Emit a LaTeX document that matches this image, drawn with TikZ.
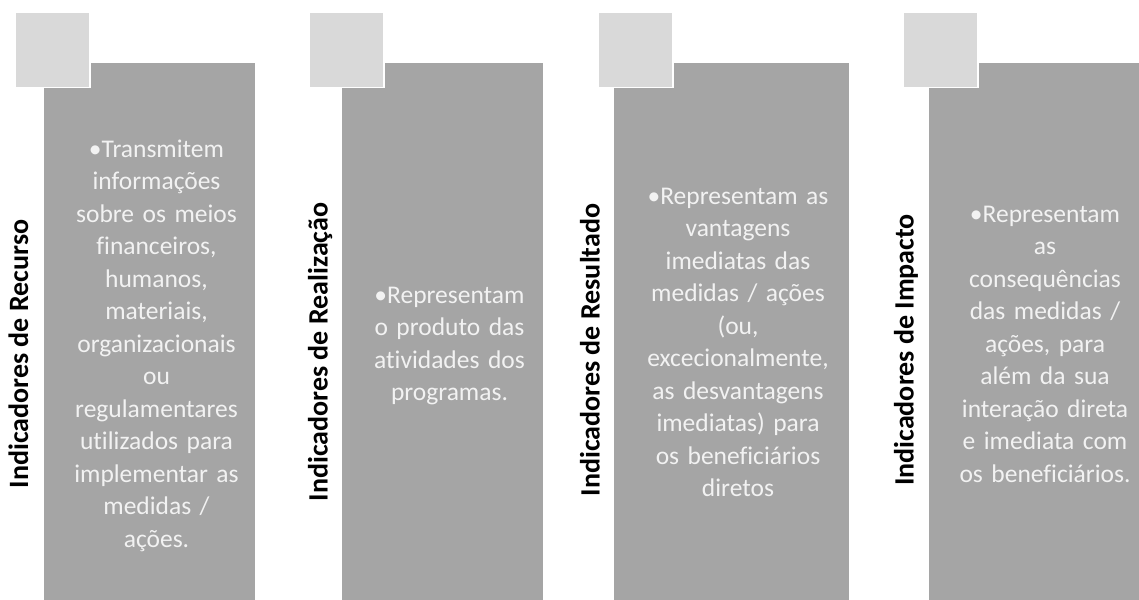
\documentclass[tikz,border=0pt]{standalone}
\usepackage{fontspec}
\setmainfont{Carlito}[Ligatures=NoCommon]
\definecolor{panelgray}{HTML}{A5A5A5}
\definecolor{tabgray}{HTML}{D9D9D9}
\definecolor{txtlight}{HTML}{F2F2F2}

\begin{document}
\begin{tikzpicture}[x=1pt, y=-1pt,
  panel/.style={draw=white, line width=1.5pt, fill=panelgray, anchor=north west,
                inner sep=0pt, minimum height=560},
  tab/.style={draw=white, line width=1.5pt, fill=tabgray, anchor=north west,
              inner sep=0pt, minimum width=75, minimum height=75},
  lbl/.style={rotate=90, font=\fontsize{28}{33}\selectfont\bfseries,
              text height=19pt, text depth=0pt, inner sep=0pt},
  body/.style={text width=300, align=center, anchor=base, inner sep=0pt,
               text=txtlight, font=\fontsize{25.5}{32.5}\selectfont}
]
  \useasboundingbox (0,0) rectangle (1139,599);
  \clip (0,0) rectangle (1139,599);

  % Recurso
  \node[panel, minimum width=213] (p1) at (42,62) {};
  \node[tab] (s1) at (14,12) {};
  \node[lbl] (l1) at (18.5,354) {Indicadores de Recurso};
  \node[body] (t1) at (156.5,157)
       {•Transmitem\\informações\\sobre os meios\\financeiros,\\humanos,\\materiais,\\organizacionais\\ou\\regulamentares\\utilizados para\\implementar as\\medidas /\\ações.};

  % Realização
  \node[panel, minimum width=203] (p2) at (340,62) {};
  \node[tab] (s2) at (308,12) {};
  \node[lbl] (l2) at (318,352) {Indicadores de Realização};
  \node[body] (t2) at (449.5,303)
       {•Representam\\o produto das\\atividades dos\\programas.};

  % Resultado
  \node[panel, minimum width=237] (p3) at (612,62) {};
  \node[tab] (s3) at (597,12) {};
  \node[lbl] (l3) at (590,350) {Indicadores de Resultado};
  \node[body] (t3) at (738,204)
       {•Representam as\\vantagens\\imediatas das\\medidas / ações\\(ou,\\excecionalmente,\\as desvantagens\\imediatas) para\\os beneficiários\\diretos};

  % Impacto
  \node[panel, minimum width=220] (p4) at (927,62) {};
  \node[tab] (s4) at (902,12) {};
  \node[lbl] (l4) at (904,350) {Indicadores de Impacto};
  \node[body] (t4) at (1045,222)
       {•Representam\\as\\consequências\\das medidas /\\ações, para\\além da sua\\interação direta\\e imediata com\\os beneficiários.};
\end{tikzpicture}
\end{document}
